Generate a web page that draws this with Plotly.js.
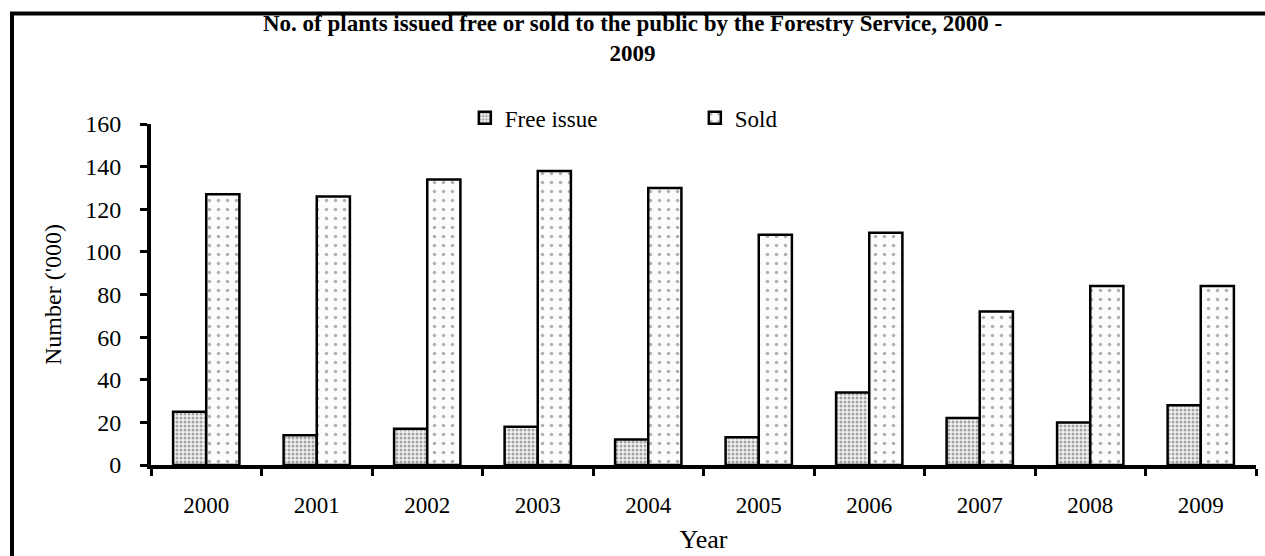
<!DOCTYPE html>
<html>
<head>
<meta charset="utf-8">
<script src="https://cdn.plot.ly/plotly-3.0.1.min.js"></script>
<style>html,body{margin:0;padding:0;background:#fff;}#chart{width:1265px;height:556px;}</style>
</head>
<body>
<div id="chart"></div>
<script>
const years = ['2000','2001','2002','2003','2004','2005','2006','2007','2008','2009'];
const freeIssue = [25, 14, 17, 18, 12, 13, 34, 22, 20, 28];
const sold = [127, 126, 134, 138, 130, 108, 109, 72, 84, 84];
const yTicks = [0, 20, 40, 60, 80, 100, 120, 140, 160];
const titleText = 'No. of plants issued free or sold to the public by the Forestry Service, 2000 -<br>2009';

const font = '"Liberation Serif", "Times New Roman", serif';

const traces = [
  {
    type: 'bar', name: 'Free issue', x: years, y: freeIssue,
    marker: {
      color: '#ffffff',
      line: {color: '#000', width: 2.5},
      pattern: {shape: '.', size: 4, solidity: 0.45, fgcolor: '#555', bgcolor: '#f2f2f2', fillmode: 'overlay'}
    }
  },
  {
    type: 'bar', name: 'Sold', x: years, y: sold,
    marker: {
      color: '#ffffff',
      line: {color: '#000', width: 2.5},
      pattern: {shape: '.', size: 9, solidity: 0.12, fgcolor: '#666', bgcolor: '#fcfcfc', fillmode: 'overlay'}
    }
  }
];

const layout = {
  width: 1265, height: 556,
  margin: {l: 151, r: 9, t: 124, b: 91},
  paper_bgcolor: '#fff', plot_bgcolor: '#fff',
  font: {family: font, color: '#000'},
  barmode: 'group', bargap: 0.4, bargroupgap: 0,
  showlegend: true,
  legend: {
    orientation: 'h', x: 0.284, xanchor: 'left', y: 1.018, yanchor: 'middle',
    font: {family: font, size: 23, color: '#000'},
    entrywidth: 185, entrywidthmode: 'pixels',
    itemwidth: 30, bgcolor: 'rgba(0,0,0,0)'
  },
  xaxis: {
    type: 'category', categoryorder: 'array', categoryarray: years,
    showline: true, linecolor: '#000', linewidth: 4,
    ticks: 'outside', tickson: 'boundaries', ticklen: 7, tickwidth: 3, tickcolor: '#000',
    ticklabelstandoff: 16,
    tickfont: {family: font, size: 23, color: '#000'},
    showgrid: false, zeroline: false,
    title: {text: 'Year', font: {family: font, size: 26, color: '#000'}, standoff: 14}
  },
  yaxis: {
    range: [0, 160], tickvals: yTicks, ticktext: yTicks.map(String),
    showline: true, linecolor: '#000', linewidth: 4,
    ticks: 'outside', ticklen: 7, tickwidth: 3, tickcolor: '#000',
    ticklabelstandoff: 14,
    tickfont: {family: font, size: 24, color: '#000'},
    showgrid: false, zeroline: false,
    title: {text: "Number ('000)", font: {family: font, size: 24, color: '#000'}, standoff: 18}
  },
  annotations: [{
    text: titleText, xref: 'paper', yref: 'paper',
    x: (632 - 151) / 1105, xanchor: 'center',
    y: 1 + (124 - 9) / 341, yanchor: 'top',
    showarrow: false, align: 'center',
    font: {family: font, size: 23, color: '#000', weight: 'bold'}
  }],
  shapes: [{
    type: 'rect', xref: 'paper', yref: 'paper',
    x0: -0.1258, x1: 1.2, y0: -0.6, y1: 1.324,
    line: {color: '#000', width: 4}, fillcolor: 'rgba(0,0,0,0)', layer: 'below'
  }]
};

Plotly.newPlot('chart', traces, layout, {displayModeBar: false, staticPlot: true});
</script>
</body>
</html>
